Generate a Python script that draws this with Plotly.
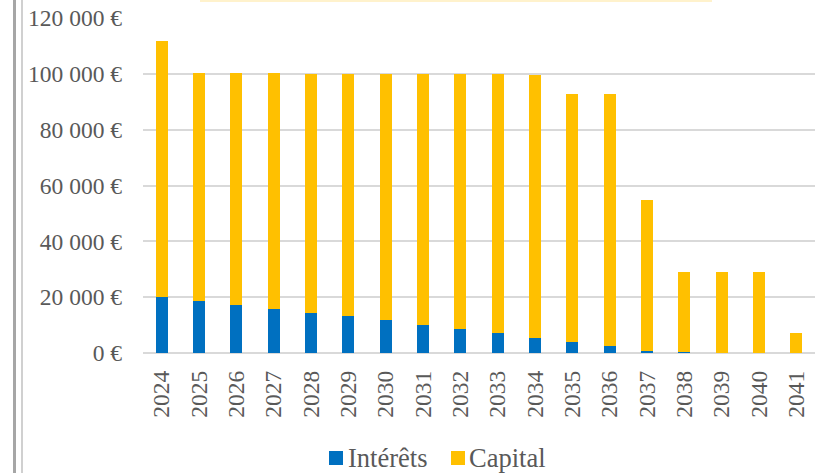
import plotly.graph_objects as go

years = ["2024", "2025", "2026", "2027", "2028", "2029", "2030", "2031", "2032",
         "2033", "2034", "2035", "2036", "2037", "2038", "2039", "2040", "2041"]
interets = [20200, 18750, 17300, 15900, 14500, 13100, 11650, 10200, 8700,
            7150, 5500, 3950, 2350, 820, 350, 60, 30, 0]
totaux = [111900, 100300, 100200, 100150, 100100, 100050, 100000, 99950, 99900,
          99800, 99700, 92900, 92900, 54800, 28900, 28900, 28900, 7150]
capital = [t - i for t, i in zip(totaux, interets)]
y_ticks = [0, 20000, 40000, 60000, 80000, 100000, 120000]
y_labels = ["0 €", "20 000 €", "40 000 €", "60 000 €", "80 000 €", "100 000 €", "120 000 €"]
series_names = ["Intérêts", "Capital"]

FONT = "Liberation Serif"
GRAY = "#595959"
BLUE = "#0070C0"
YELLOW = "#FFC000"

L, T, B = 143, 18, 120
PW, PH = 815 - L, 473 - T - B


def px(x):
    return (x - L) / PW


def py(y):
    return (T + PH - y) / PH


fig = go.Figure()
fig.add_trace(go.Bar(x=years, y=interets, name=series_names[0], showlegend=False,
                     marker=dict(color=BLUE, line=dict(width=0))))
fig.add_trace(go.Bar(x=years, y=capital, name=series_names[1], showlegend=False,
                     marker=dict(color=YELLOW, line=dict(width=0))))

fig.update_layout(
    barmode="stack",
    bargap=0.68,
    width=815, height=473,
    margin=dict(l=L, r=0, t=T, b=B, autoexpand=False),
    paper_bgcolor="white",
    plot_bgcolor="white",
    font=dict(family=FONT, size=23.5, color=GRAY),
    showlegend=False,
)
fig.update_xaxes(
    type="category", tickangle=-90, showgrid=False, zeroline=False,
    showline=False, ticks="", ticklabelstandoff=12, automargin=False,
    tickfont=dict(family=FONT, size=23.5, color=GRAY),
)
fig.update_yaxes(
    range=[0, 120000], tickvals=y_ticks, ticktext=y_labels,
    showgrid=True, gridcolor="#D9D9D9", gridwidth=1.5,
    zeroline=True, zerolinecolor="#D9D9D9", zerolinewidth=1.5,
    showline=False, ticks="", ticklabelstandoff=20, automargin=False,
    tickfont=dict(family=FONT, size=23.5, color=GRAY),
)

# legend (drawn manually for exact placement)
for name, col, sx, tx in [(series_names[0], BLUE, 329, 347),
                          (series_names[1], YELLOW, 451, 468)]:
    fig.add_shape(type="rect", xref="paper", yref="paper",
                  x0=px(sx), x1=px(sx + 14), y0=py(451), y1=py(465),
                  fillcolor=col, line=dict(width=0))
    fig.add_annotation(xref="paper", yref="paper", x=px(tx), y=py(458),
                       xanchor="left", yanchor="middle", showarrow=False,
                       text=name, borderpad=0,
                       font=dict(family=FONT, size=26.5, color=GRAY))

# decorative frame lines on the left and the cut-off title box at top
fig.add_shape(type="rect", xref="paper", yref="paper",
              x0=px(13), x1=px(16), y0=-10, y1=10,
              fillcolor="#A6A6A6", line=dict(width=0), layer="above")
fig.add_shape(type="rect", xref="paper", yref="paper",
              x0=px(21), x1=px(23), y0=-10, y1=10,
              fillcolor="#D0D0D0", line=dict(width=0), layer="above")
fig.add_shape(type="rect", xref="paper", yref="paper",
              x0=px(200), x1=px(712), y0=py(2), y1=py(-5),
              fillcolor="#FFF2CC", line=dict(width=0), layer="above")

fig.write_html("out.html", config={"displayModeBar": False},
               post_script="document.body.style.margin='0';document.body.style.overflow='hidden';")
